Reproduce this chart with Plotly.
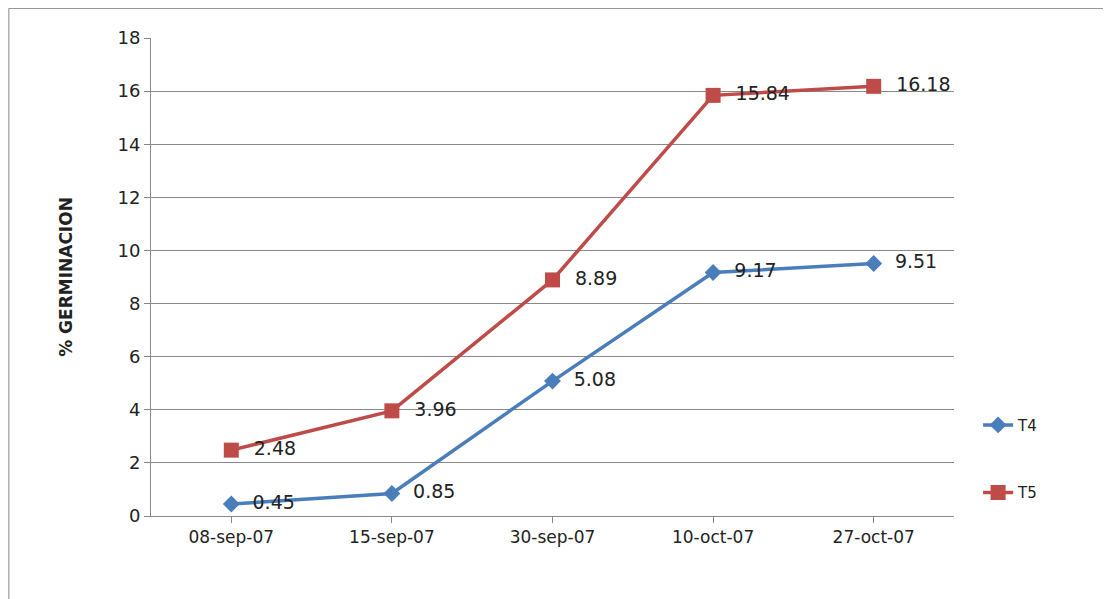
import plotly.graph_objects as go

dates = ["08-sep-07", "15-sep-07", "30-sep-07", "10-oct-07", "27-oct-07"]
t4 = [0.45, 0.85, 5.08, 9.17, 9.51]
t5 = [2.48, 3.96, 8.89, 15.84, 16.18]

fig = go.Figure()
fig.add_trace(go.Scatter(
    x=dates, y=t4, name="T4", mode="lines+markers+text", legendgroup="a",
    line=dict(color="#4a7ebb", width=3.5),
    marker=dict(symbol="diamond", size=13, color="#4a7ebb"),
    text=[f"  {v:.2f}" for v in t4], textposition="middle right",
    textfont=dict(size=19, color="#222"),
))
fig.add_trace(go.Scatter(
    x=dates, y=t5, name="T5", mode="lines+markers+text", legendgroup="b",
    line=dict(color="#be4b48", width=3.5),
    marker=dict(symbol="square", size=15, color="#be4b48"),
    text=[f"  {v:.2f}" for v in t5], textposition="middle right",
    textfont=dict(size=19, color="#222"),
))

fig.update_layout(
    width=1111, height=599,
    margin=dict(l=143, r=165, t=30, b=91),
    paper_bgcolor="white", plot_bgcolor="white",
    font=dict(family="DejaVu Sans", size=16, color="#222"),
    legend=dict(x=1.03, y=0.12, yanchor="middle", xanchor="left",
                tracegroupgap=45, font=dict(size=15)),
    shapes=[dict(type="rect", xref="paper", yref="paper",
                 x0=-0.177, x1=1.202, y0=-0.2, y1=1.062,
                 line=dict(color="#888", width=1))],
)
fig.update_xaxes(type="category", range=[-0.5, 4.5], showgrid=False,
                 showline=True, linecolor="#888", ticks="outside",
                 ticklen=6, tickcolor="#888", tickfont=dict(size=17))
fig.update_yaxes(range=[0, 18], dtick=2, showgrid=True, gridcolor="#888",
                 showline=True, linecolor="#888", ticks="outside",
                 ticklen=6, tickcolor="#888", tickfont=dict(size=18),
                 zeroline=False,
                 title=dict(text="<b>% GERMINACION</b>", font=dict(size=17),
                            standoff=40))

fig.write_html("out.html")
